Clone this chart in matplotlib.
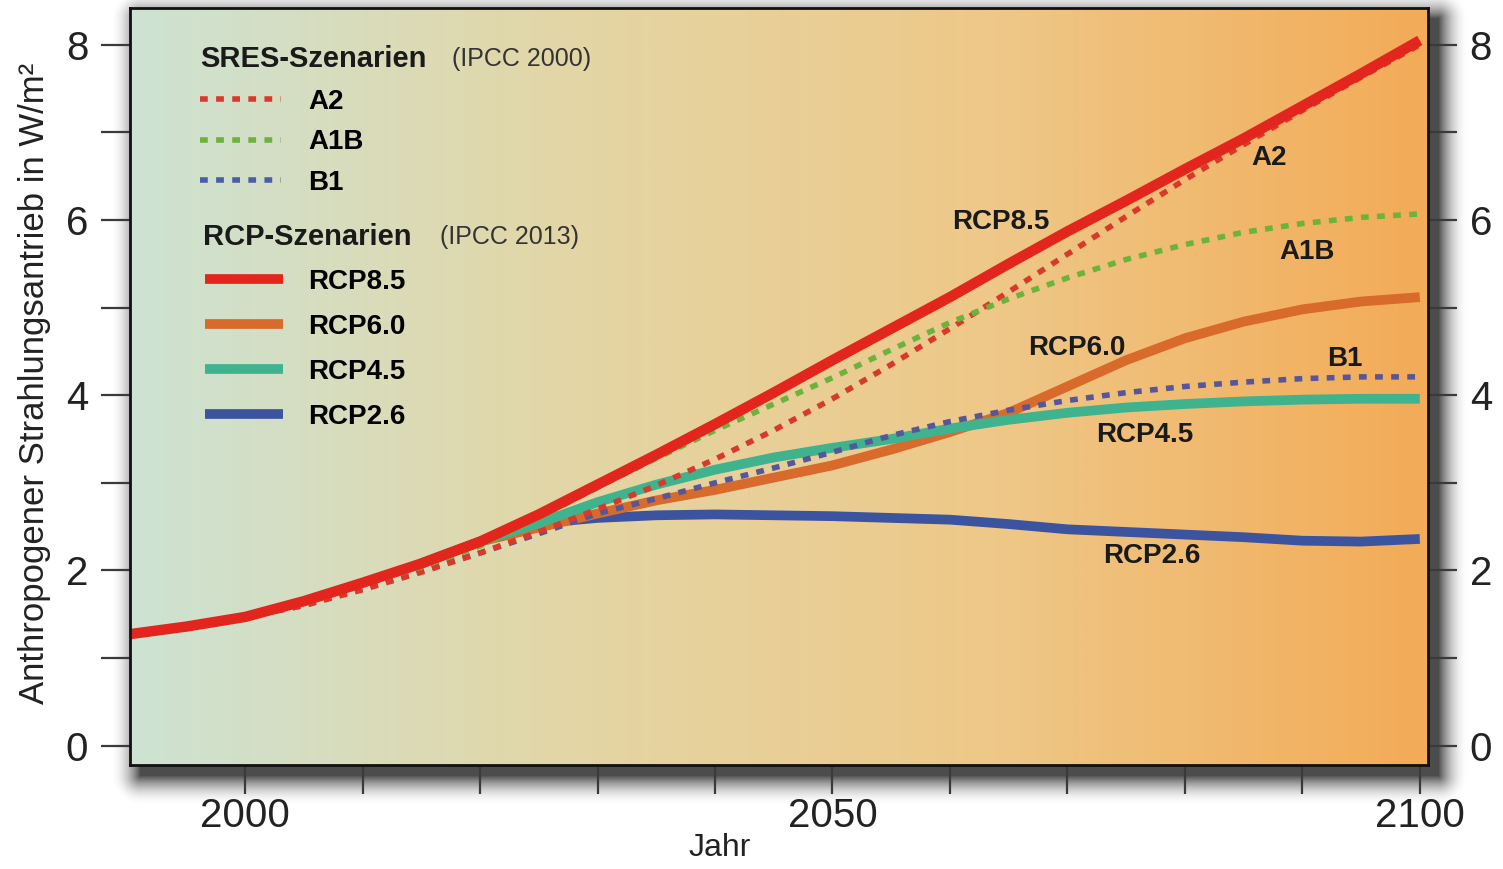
import numpy as np
import matplotlib
matplotlib.use("Agg")
from matplotlib import pyplot as plt
from matplotlib.colors import LinearSegmentedColormap
from matplotlib.lines import Line2D

plt.rcParams['font.family'] = ['Liberation Sans', 'DejaVu Sans']

# --- data (W/m2) ---
rcp85_years = [1990, 1995, 2000, 2005, 2010, 2015, 2020, 2025, 2030, 2035, 2040, 2045,
               2050, 2055, 2060, 2065, 2070, 2075, 2080, 2085, 2090, 2095, 2100]
rcp85 = [1.27, 1.36, 1.47, 1.65, 1.86, 2.08, 2.33, 2.64, 2.98, 3.32, 3.67, 4.03,
         4.4, 4.76, 5.12, 5.5, 5.87, 6.22, 6.58, 6.93, 7.3, 7.67, 8.05]

proj_years = [2015, 2020, 2025, 2030, 2035, 2040, 2045, 2050, 2055, 2060, 2065, 2070,
              2075, 2080, 2085, 2090, 2095, 2100]
rcp60 = [2.08, 2.33, 2.49, 2.65, 2.8, 2.92, 3.06, 3.2, 3.38, 3.58, 3.8, 4.1,
         4.4, 4.65, 4.84, 4.98, 5.07, 5.12]
rcp45 = [2.08, 2.33, 2.54, 2.78, 2.98, 3.15, 3.29, 3.4, 3.5, 3.62, 3.72, 3.8,
         3.86, 3.9, 3.93, 3.95, 3.96, 3.96]
rcp26 = [2.08, 2.33, 2.54, 2.6, 2.63, 2.64, 2.63, 2.62, 2.6, 2.58, 2.53, 2.47,
         2.44, 2.41, 2.38, 2.34, 2.33, 2.36]

sres_years = [2000, 2005, 2010, 2015, 2020, 2025, 2030, 2035, 2040, 2045, 2050, 2055,
              2060, 2065, 2070, 2075, 2080, 2085, 2090, 2095, 2100]
a2 = [1.47, 1.6, 1.78, 1.98, 2.2, 2.44, 2.7, 2.97, 3.27, 3.6, 3.96, 4.35,
      4.76, 5.18, 5.61, 6.04, 6.46, 6.86, 7.25, 7.63, 8.0]
a1b = [1.47, 1.62, 1.84, 2.04, 2.28, 2.6, 2.95, 3.28, 3.6, 3.9, 4.2, 4.52,
       4.83, 5.1, 5.34, 5.55, 5.72, 5.86, 5.96, 6.03, 6.07]
b1 = [1.47, 1.6, 1.8, 2.0, 2.2, 2.42, 2.65, 2.82, 3.0, 3.17, 3.35, 3.54,
      3.7, 3.83, 3.94, 4.03, 4.1, 4.15, 4.19, 4.21, 4.21]

# label positions (year, value)
labels = {
    'RCP8.5': (2064.3, 5.98),
    'A2': (2087.2, 6.71),
    'A1B': (2090.4, 5.63),
    'RCP6.0': (2070.8, 4.54),
    'B1': (2093.6, 4.41),
    'RCP4.5': (2076.6, 3.55),
    'RCP2.6': (2077.2, 2.16),
}

c85, c60, c45, c26 = '#e2261d', '#d86a2b', '#3fb38e', '#3c53a0'
ca2, ca1b, cb1 = '#d9392a', '#6cb33c', '#56579a'

W, H = 1503, 869
fig = plt.figure(figsize=(W / 100, H / 100), dpi=100)

# drop shadow behind the plot frame
bg = fig.add_axes([0, 0, 1, 1], zorder=0)
bg.axis('off')
x0, x1, y0, y1 = 130, 1428, 8, 765
off = 10
xx, yy = np.meshgrid(np.arange(W), np.arange(H))
dx = np.maximum(np.maximum((x0 + off) - xx, xx - (x1 + off)), 0)
dy = np.maximum(np.maximum((y0 + off) - yy, yy - (y1 + off)), 0)
d = np.hypot(dx, dy)
alpha = 0.9 * np.clip(1 - d / 30.0, 0, 1) ** 2
shadow = np.zeros((H, W, 4))
shadow[..., :3] = 0.22
shadow[..., 3] = alpha
bg.imshow(shadow, extent=(0, W, H, 0), aspect='auto', interpolation='bilinear')
bg.set_xlim(0, W)
bg.set_ylim(H, 0)

ax = fig.add_axes([x0 / W, 1 - y1 / H, (x1 - x0) / W, (y1 - y0) / H], zorder=1)
xlim = (1990.2, 2100.7)
ylim = (-0.22, 8.42)

grad = LinearSegmentedColormap.from_list('bg', ['#cde3d3', '#e3d6a6', '#eec888', '#f3ab57'])
ax.imshow(np.linspace(0, 1, 512).reshape(1, -1), cmap=grad, aspect='auto',
          extent=(xlim[0], xlim[1], ylim[0], ylim[1]), zorder=0, interpolation='bilinear')

dot = (0, (1.4, 1.5))
kw = dict(solid_capstyle='butt', solid_joinstyle='round')
ax.plot(proj_years, rcp26, color=c26, lw=7, zorder=3, **kw)
ax.plot(proj_years, rcp60, color=c60, lw=7, zorder=4, **kw)
ax.plot(proj_years, rcp45, color=c45, lw=7, zorder=5, **kw)
ax.plot(sres_years, b1, color=cb1, lw=4, ls=dot, zorder=6)
ax.plot(sres_years, a2, color=ca2, lw=4, ls=dot, zorder=6)
ax.plot(sres_years, a1b, color=ca1b, lw=4, ls=dot, zorder=6)
ax.plot(rcp85_years, rcp85, color=c85, lw=7.5, zorder=7, **kw)

for name, (lx, ly) in labels.items():
    ax.text(lx, ly, name, fontsize=20, fontweight='bold', color='#1a1a1a',
            ha='center', va='center', zorder=8)

ax.set_xlim(*xlim)
ax.set_ylim(*ylim)

# legends
sres_h = [Line2D([], [], color=ca2, lw=4, ls=dot),
          Line2D([], [], color=ca1b, lw=4, ls=dot),
          Line2D([], [], color='#4a5ea8', lw=4, ls=dot)]
leg1 = ax.legend(sres_h, ['A2', 'A1B', 'B1'], loc='upper left', bbox_to_anchor=(0.0539, 0.893),
                 frameon=False, borderpad=0, borderaxespad=0, handlelength=2.9,
                 handletextpad=1.0, labelspacing=0.52, prop={'size': 20, 'weight': 'bold'})
ax.add_artist(leg1)
rcp_h = [Line2D([], [], color=c, lw=7, solid_capstyle='butt') for c in (c85, c60, c45, c26)]
ax.legend(rcp_h, ['RCP8.5', 'RCP6.0', 'RCP4.5', 'RCP2.6'], loc='upper left',
          bbox_to_anchor=(0.0578, 0.655), frameon=False, borderpad=0, borderaxespad=0,
          handlelength=2.8, handletextpad=0.9, labelspacing=0.68,
          prop={'size': 20, 'weight': 'bold'})

ax.text(0.0539, 0.933, 'SRES-Szenarien', transform=ax.transAxes, fontsize=21,
        fontweight='bold', color='#1a1a1a', va='center', ha='left')
ax.text(0.248, 0.933, '(IPCC 2000)', transform=ax.transAxes, fontsize=18,
        color='#333333', va='center', ha='left')
ax.text(0.056, 0.697, 'RCP-Szenarien', transform=ax.transAxes, fontsize=21,
        fontweight='bold', color='#1a1a1a', va='center', ha='left')
ax.text(0.239, 0.697, '(IPCC 2013)', transform=ax.transAxes, fontsize=18,
        color='#333333', va='center', ha='left')

# ticks
ax.set_yticks([0, 2, 4, 6, 8])
ax.set_yticks([1, 3, 5, 7], minor=True)
ax.set_xticks([2000, 2050, 2100])
ax.set_xticks(np.arange(2010, 2100, 10), minor=True)
ax.tick_params(axis='y', which='both', direction='out', length=21, width=1.6,
               color='#3a3a3a', labelsize=29, pad=9, labelcolor='#222222')
ax.tick_params(axis='y', which='both', right=True, labelright=True)
ax.tick_params(axis='x', which='both', direction='out', length=21, width=1.6,
               color='#3a3a3a', labelsize=29, pad=2, labelcolor='#222222')
for t in ax.yaxis.get_major_ticks():
    t.label2.set_x(1.0)
    t.set_pad(9)
for sp in ax.spines.values():
    sp.set_linewidth(2)
    sp.set_color('#111111')
    sp.set_zorder(10)

fig.text(35 / W, 1 - 383 / H, 'Anthropogener Strahlungsantrieb in W/m²', rotation=90,
         fontsize=25, ha='center', va='center', color='#222222')
fig.text(720 / W, 1 - 848 / H, 'Jahr', fontsize=23, ha='center', va='center', color='#222222')

fig.savefig('out.png', dpi=100)
